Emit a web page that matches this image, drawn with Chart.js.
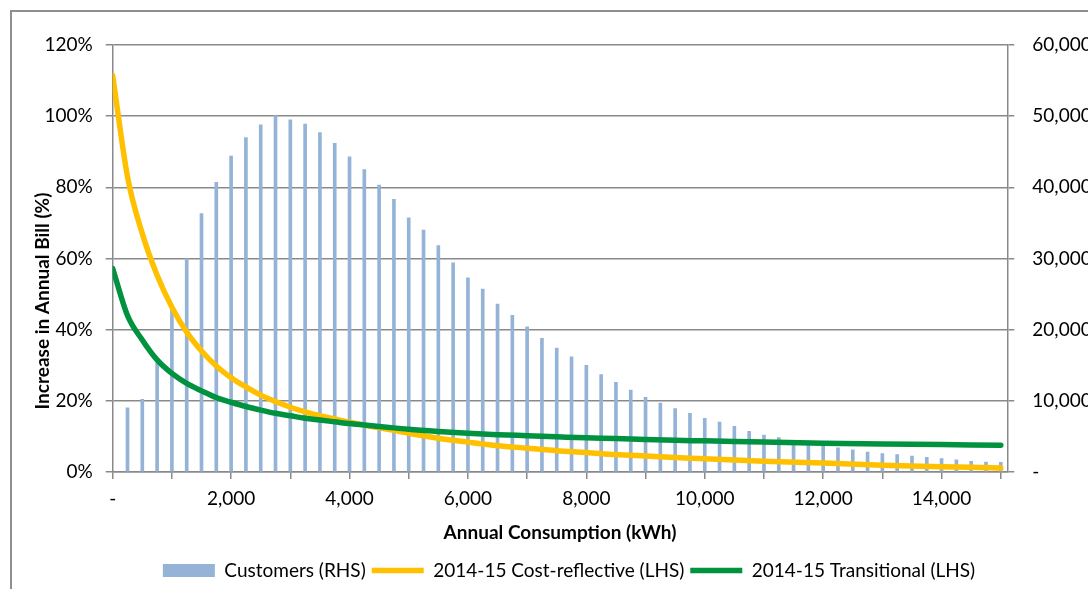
<!DOCTYPE html>
<html>
<head>
<meta charset="utf-8">
<script src="https://cdn.jsdelivr.net/npm/chart.js@4.4.1/dist/chart.umd.min.js"></script>
<style>
  html, body { margin: 0; padding: 0; background: #fff; overflow: hidden; }
  #frame { position: absolute; left: 10px; top: 10px; border-left: 2px solid #8f8f8f; border-top: 2px solid #8f8f8f; }
  canvas { display: block; }
</style>
</head>
<body>
<div id="frame"><canvas id="chart" width="1114" height="590"></canvas></div>
<script>
/* Customers by annual consumption band (RHS) */
let customerKwh = [250, 500, 750, 1000, 1250, 1500, 1750, 2000, 2250, 2500,
    2750, 3000, 3250, 3500, 3750, 4000, 4250, 4500, 4750, 5000,
    5250, 5500, 5750, 6000, 6250, 6500, 6750, 7000, 7250, 7500,
    7750, 8000, 8250, 8500, 8750, 9000, 9250, 9500, 9750, 10000,
    10250, 10500, 10750, 11000, 11250, 11500, 11750, 12000, 12250, 12500,
    12750, 13000, 13250, 13500, 13750, 14000, 14250, 14500, 14750, 15000]
let customers = [9000, 10200, 15300, 23000, 30000, 36300, 40700, 44400, 47000, 48800,
    50100, 49500, 48900, 47700, 46200, 44300, 42500, 40300, 38300, 35700,
    34000, 31800, 29400, 27300, 25700, 23600, 22000, 20400, 18800, 17400,
    16200, 15000, 13700, 12600, 11500, 10500, 9700, 8900, 8250, 7550,
    7000, 6400, 5700, 5200, 4850, 4400, 4050, 3700, 3400, 3100,
    2800, 2600, 2450, 2250, 2050, 1900, 1700, 1500, 1400, 1350]

/* Increase in annual bill, % (LHS) */
let lineKwh = [0, 250, 500, 750, 1000, 1250, 1500, 1750, 2000, 2250,
    2500, 2750, 3000, 3250, 3500, 3750, 4000, 4250, 4500, 4750,
    5000, 5500, 6000, 6500, 7000, 7500, 8000, 8500, 9000, 9500,
    10000, 11000, 12000, 13000, 14000, 15000]
let costReflective = [111.4, 83.0, 67.0, 55.3, 46.3, 39.3, 34.0, 29.8, 26.5, 23.9,
    21.6, 19.8, 18.2, 16.9, 15.8, 14.9, 14.0, 13.2, 12.4, 11.7,
    10.9, 9.5, 8.4, 7.4, 6.7, 6.0, 5.5, 4.9, 4.5, 4.1,
    3.7, 3.0, 2.5, 1.9, 1.5, 1.1]
let transitional = [57.2, 44.0, 37.1, 31.5, 27.7, 24.9, 22.8, 20.9, 19.6, 18.4,
    17.4, 16.5, 15.8, 15.1, 14.6, 14.1, 13.6, 13.2, 12.8, 12.4,
    12.0, 11.4, 10.9, 10.5, 10.2, 9.9, 9.6, 9.4, 9.1, 8.9,
    8.75, 8.4, 8.1, 7.9, 7.7, 7.5]

/* Axis ticks: marks every 1,000 kWh, labels every 2,000 */
let xTickMarks = [0, 1000, 2000, 3000, 4000, 5000, 6000, 7000, 8000,
    9000, 10000, 11000, 12000, 13000, 14000, 15000]
let xTickValues = [0, 2000, 4000, 6000, 8000, 10000, 12000, 14000]
let xTickLabels = ['-', '2,000', '4,000', '6,000', '8,000', '10,000', '12,000', '14,000']

let seriesNames = ['Customers (RHS)', '2014-15 Cost-reflective (LHS)', '2014-15 Transitional (LHS)']

let gridGrey = '#898989'
let fontFamily = 'Lato, "Open Sans", sans-serif'

Chart.defaults.font.family = fontFamily
Chart.defaults.font.size = 19
Chart.defaults.color = '#000'

function toPoints(xs, ys) {
    return ys.map((y, i) => ({ x: xs[i], y: y }))
}

function withCommas(v) {
    return v === 0 ? '-' : v.toLocaleString('en-US')
}

function xLabel(v) {
    let i = xTickValues.indexOf(Math.round(v))
    return i < 0 ? '' : xTickLabels[i]
}

// Y axis title sits a bit lower than the middle of the plot, so draw it by hand
let yTitlePlugin = {
    id: 'yTitle',
    afterDraw(chart) {
        let c = chart.ctx
        c.save()
        c.translate(31, 289)
        c.rotate(-Math.PI / 2)
        c.font = 'bold 19px ' + fontFamily
        c.fillStyle = '#000'
        c.textAlign = 'center'
        c.textBaseline = 'middle'
        c.fillText('Increase in Annual Bill (%)', 0, 0)
        c.restore()
    }
}

let ctx = document.querySelector('#chart').getContext('2d')

let chart = new Chart(ctx, {
    type: 'line',
    data: {
        datasets: [
            {
                type: 'bar',
                label: seriesNames[0],
                data: toPoints(customerKwh, customers),
                yAxisID: 'y1',
                backgroundColor: '#95B3D7',
                borderWidth: 0,
                barThickness: 3,
                pointStyle: 'rect',
                order: 3
            },
            {
                label: seriesNames[1],
                data: toPoints(lineKwh, costReflective),
                yAxisID: 'y',
                borderColor: '#FFC000',
                backgroundColor: '#FFC000',
                borderWidth: 5.5,
                borderCapStyle: 'round',
                borderJoinStyle: 'round',
                cubicInterpolationMode: 'monotone',
                pointRadius: 0,
                pointStyle: 'line',
                order: 2
            },
            {
                label: seriesNames[2],
                data: toPoints(lineKwh, transitional),
                yAxisID: 'y',
                borderColor: '#00923F',
                backgroundColor: '#00923F',
                borderWidth: 5.5,
                borderCapStyle: 'round',
                borderJoinStyle: 'round',
                cubicInterpolationMode: 'monotone',
                pointRadius: 0,
                pointStyle: 'line',
                order: 1
            }
        ]
    },
    options: {
        responsive: false,
        animation: false,
        devicePixelRatio: 1,
        layout: { padding: { top: 33, bottom: 12, left: 0, right: 0 } },
        plugins: {
            tooltip: { enabled: false },
            legend: {
                position: 'bottom',
                labels: {
                    usePointStyle: true,
                    pointStyleWidth: 52,
                    boxHeight: 13,
                    padding: 6,
                    color: '#000',
                    font: { size: 19 },
                    sort: (a, b) => a.datasetIndex - b.datasetIndex
                }
            }
        },
        scales: {
            x: {
                type: 'linear',
                min: 0,
                max: 15110,
                offset: false,
                ticks: {
                    autoSkip: false,
                    maxRotation: 0,
                    padding: 8,
                    callback: v => xLabel(v)
                },
                // the axis runs a little past 15,000, so set the tick marks by hand
                afterBuildTicks(s) { s.ticks = xTickMarks.map(v => ({ value: v })) },
                grid: { offset: false, drawOnChartArea: false, tickLength: 7, color: gridGrey, lineWidth: 1.5 },
                border: { color: gridGrey, width: 1.5 },
                title: {
                    display: true,
                    text: 'Annual Consumption (kWh)',
                    font: { size: 19, weight: 'bold' },
                    padding: { top: 0, bottom: 11 }
                },
                afterFit(s) { s.height = 83 }
            },
            y: {
                position: 'left',
                min: 0,
                max: 120,
                ticks: { stepSize: 20, padding: 13, callback: v => v + '%' },
                grid: { color: gridGrey, lineWidth: 1.5, tickLength: 7 },
                border: { color: gridGrey, width: 1.5 },
                afterFit(s) { s.width = 100.7 }
            },
            y1: {
                position: 'right',
                min: 0,
                max: 60000,
                ticks: { stepSize: 10000, padding: 18, callback: v => withCommas(v) },
                grid: { drawOnChartArea: false, color: gridGrey, lineWidth: 1.5, tickLength: 7 },
                border: { color: gridGrey, width: 1.5 },
                afterFit(s) { s.width = 118.7 }
            }
        }
    },
    plugins: [yTitlePlugin]
})
</script>
</body>
</html>
